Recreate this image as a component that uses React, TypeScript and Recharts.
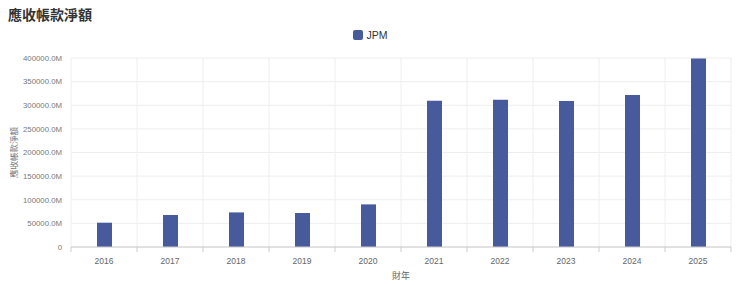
import React from 'react'
import { BarChart, Bar, XAxis, YAxis, CartesianGrid, Label } from 'recharts'

const years = ['2016', '2017', '2018', '2019', '2020', '2021', '2022', '2023', '2024', '2025']
const jpmValues = [51400, 67700, 73200, 72000, 90200, 309600, 311700, 309000, 321700, 399000]
const yTicks = [0, 50000, 100000, 150000, 200000, 250000, 300000, 350000, 400000]

const data = years.map((y, i) => ({ year: y, JPM: jpmValues[i] }))

const FONT = '"Liberation Sans", Arial, "Noto Sans CJK TC", sans-serif'
const CJK = '"Noto Sans CJK TC", sans-serif'
const BAR_COLOR = '#475a9c'

const fmtY = (v: number) => (v === 0 ? '0' : `${v.toFixed(1)}M`)

const XTick = (props: any) => {
  const { x, y, payload, width } = props
  const step = width / years.length
  return (
    <g>
      <line x1={x - step / 2} x2={x - step / 2} y1={y - 8} y2={y - 3} stroke="#ccc" />
      {payload.index === years.length - 1 && (
        <line x1={x + step / 2} x2={x + step / 2} y1={y - 8} y2={y - 3} stroke="#ccc" />
      )}
      <text x={x} y={y + 9} textAnchor="middle" fill="#666" fontSize={8.5} fontFamily={FONT}>
        {payload.value}
      </text>
    </g>
  )
}

export default function App() {
  return (
    <div style={{ position: 'absolute', left: 0, top: 0, width: 740, height: 285, background: '#fff', fontFamily: FONT }}>
      <div style={{ position: 'absolute', left: 8, top: 4, fontSize: 14, fontWeight: 'bold', color: '#333', fontFamily: CJK }}>
        應收帳款淨額
      </div>
      <div style={{ position: 'absolute', left: 0, width: 740, top: 29, display: 'flex', justifyContent: 'center', alignItems: 'center', fontSize: 10.5, color: '#333' }}>
        <span style={{ display: 'inline-block', width: 10, height: 10, borderRadius: 2, background: BAR_COLOR, marginRight: 4 }} />
        <span>JPM</span>
      </div>
      <BarChart width={740} height={285} data={data} margin={{ top: 58, right: 9, bottom: 0, left: 0 }}>
        <CartesianGrid
          stroke="#eeeeee"
          verticalCoordinatesGenerator={({ offset }: any) =>
            Array.from({ length: years.length + 1 }, (_, i) => offset.left + (i * offset.width) / years.length)
          }
        />
        <XAxis
          dataKey="year"
          height={38}
          axisLine={{ stroke: '#ccc' }}
          tickLine={false}
          tick={<XTick />}
          interval={0}
        >
          <Label value="財年" position="insideBottom" offset={6} fill="#666" fontSize={9} fontFamily={CJK} />
        </XAxis>
        <YAxis
          width={71}
          domain={[0, 400000]}
          ticks={yTicks}
          tickFormatter={fmtY}
          axisLine={false}
          tickLine={false}
          tick={{ fontSize: 7.8, fill: '#777', fontFamily: FONT }}
          tickMargin={3}
        >
          <Label value="應收帳款淨額" angle={-90} position="insideLeft" offset={14} fill="#777" fontSize={8.5} fontFamily={CJK} style={{ textAnchor: 'middle' }} />
        </YAxis>
        <Bar dataKey="JPM" fill={BAR_COLOR} barSize={15} isAnimationActive={false} />
      </BarChart>
    </div>
  )
}
